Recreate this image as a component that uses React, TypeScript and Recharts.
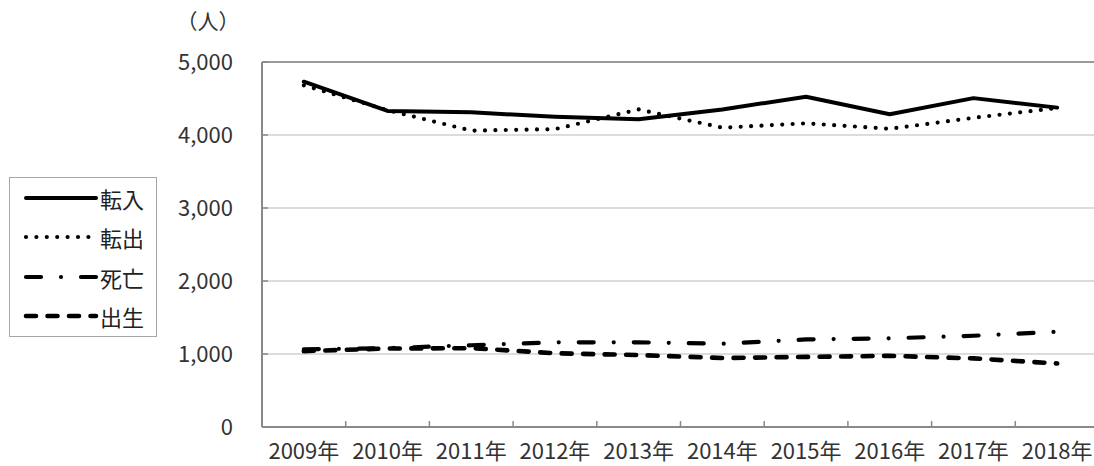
import { LineChart, Line, XAxis, YAxis, CartesianGrid, Legend, ReferenceLine } from 'recharts';

// values
const years = ['2009年', '2010年', '2011年', '2012年', '2013年', '2014年', '2015年', '2016年', '2017年', '2018年'];
const tennyu = [4730, 4330, 4310, 4250, 4215, 4350, 4525, 4285, 4505, 4375];
const tenshutsu = [4680, 4340, 4060, 4080, 4350, 4100, 4160, 4085, 4235, 4370];
const shibo = [1065, 1080, 1120, 1160, 1160, 1140, 1200, 1215, 1250, 1305];
const shussei = [1040, 1075, 1080, 1010, 985, 945, 960, 975, 940, 870];
const yTicks = [0, 1000, 2000, 3000, 4000, 5000];
const unitLabel = '（人）';

const FONT = '"Noto Sans CJK JP", "Noto Sans", sans-serif';
const CHART_W = 1100;
const CHART_H = 466;
const PLOT_LEFT = 262;
const PLOT_W = 837;
const BAND = PLOT_W / years.length;
const AXIS = '#898989';

const series = [
  { name: '転入', values: tennyu, width: 4, dash: undefined as string | undefined },
  { name: '転出', values: tenshutsu, width: 4.2, dash: '0 10.4' },
  { name: '死亡', values: shibo, width: 4.2, dash: '15 20 0 20' },
  { name: '出生', values: shussei, width: 4.6, dash: '10 11.5' },
];

const data = years.map((year, i) => {
  const row: any = { year };
  series.forEach(s => {
    row[s.name] = s.values[i];
  });
  return row;
});

function YearTick({ x, y, payload, index }: any) {
  return (
    <g>
      <text x={x} y={y + 24} dy="0.355em" textAnchor="middle" fontSize={22} fill="#333" fontFamily={FONT}>
        {payload.value}
      </text>
      {index < years.length - 1 && (
        <line x1={x + BAND / 2} x2={x + BAND / 2} y1={y} y2={y - 6} stroke={AXIS} strokeWidth={1.5} />
      )}
    </g>
  );
}

function LegendBox() {
  return (
    <div
      style={{
        width: 148,
        height: 160,
        boxSizing: 'border-box',
        border: '1px solid #a6a6a6',
        background: '#fff',
        paddingTop: 0,
        fontFamily: FONT,
      }}
    >
      {series.map(s => (
        <div key={s.name} style={{ height: 39.5, display: 'flex', alignItems: 'center' }}>
          <svg width={86} height={20} style={{ flex: 'none', marginLeft: 4 }}>
            <line
              x1={12}
              x2={82}
              y1={10}
              y2={10}
              stroke="#000"
              strokeWidth={s.width}
              strokeDasharray={s.dash}
              strokeLinecap="round"
            />
          </svg>
          <span style={{ fontSize: 22, color: '#222', lineHeight: 1 }}>{s.name}</span>
        </div>
      ))}
    </div>
  );
}

export default function App() {
  return (
    <div style={{ position: 'absolute', left: 0, top: 0, width: 1094, height: 466, overflow: 'hidden', background: '#fff' }}>
      <LineChart width={CHART_W} height={CHART_H} data={data} margin={{ top: 62, right: CHART_W - PLOT_LEFT - PLOT_W, bottom: 0, left: 0 }}>
        <CartesianGrid vertical={false} stroke="#dcdcdc" strokeWidth={2} />
        <ReferenceLine y={5000} stroke="#9a9a9a" strokeWidth={2} />
        <XAxis
          dataKey="year"
          scale="band"
          height={39}
          axisLine={{ stroke: AXIS, strokeWidth: 2 }}
          tickLine={false}
          tickSize={0}
          tickMargin={0}
          interval={0}
          tick={<YearTick />}
        />
        <YAxis
          width={PLOT_LEFT}
          domain={[0, 5000]}
          ticks={yTicks}
          interval={0}
          axisLine={{ stroke: AXIS, strokeWidth: 2 }}
          tickLine={{ stroke: AXIS, strokeWidth: 1.5 }}
          tickSize={-6}
          tickMargin={35}
          tickFormatter={(v: number) => v.toLocaleString('en-US')}
          tick={{ fontSize: 22, fill: '#333', fontFamily: FONT }}
          label={{
            content: () => (
              <text x={208} y={22} dy="0.355em" textAnchor="middle" fontSize={21} fill="#333" fontFamily={FONT}>
                {unitLabel}
              </text>
            ),
          }}
        />
        <Legend
          layout="vertical"
          align="center"
          verticalAlign="middle"
          wrapperStyle={{ left: 9, top: 177, width: 148 }}
          content={() => <LegendBox />}
        />
        {series.map(s => (
          <Line
            key={s.name}
            dataKey={s.name}
            type="linear"
            stroke="#000"
            strokeWidth={s.width}
            strokeDasharray={s.dash}
            strokeLinecap="round"
            strokeLinejoin="round"
            dot={false}
            activeDot={false}
            isAnimationActive={false}
          />
        ))}
      </LineChart>
    </div>
  );
}
